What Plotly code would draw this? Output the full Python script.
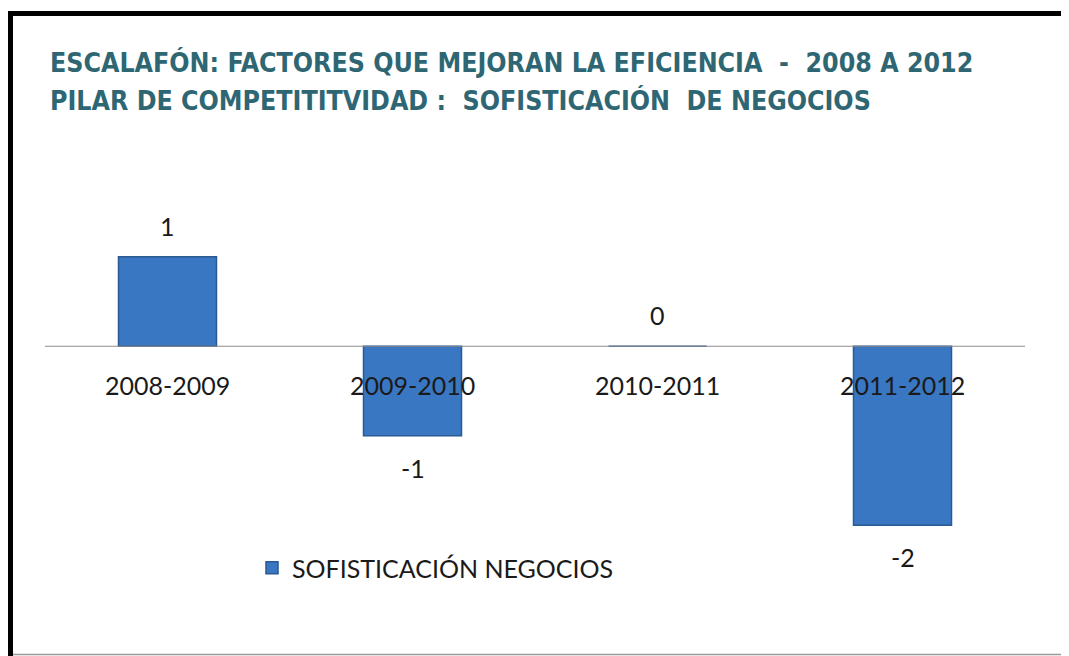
import plotly.graph_objects as go

categories = ["2008-2009", "2009-2010", "2010-2011", "2011-2012"]
values = [1, -1, 0, -2]
series_name = "SOFISTICACIÓN NEGOCIOS"
title_lines = ["ESCALAFÓN: FACTORES QUE MEJORAN LA EFICIENCIA  -  2008 A 2012",
               "PILAR DE COMPETITITVIDAD :  SOFISTICACIÓN  DE NEGOCIOS"]

OFF = 8  # page body margin
W, H = 1069 - OFF, 656 - OFF
L, R, T = 45 - OFF, 1069 - 1025, 212 - OFF
B = H - (570 - OFF)
pw, ph = W - L - R, H - T - B

def px(x):
    return (x - OFF - L) / pw

def py(y):
    return (H - B - (y - OFF)) / ph

FONT = "Lato, Liberation Sans"
fig = go.Figure()
fig.add_trace(go.Bar(
    x=categories, y=values, name=series_name, width=0.4,
    marker=dict(color="#3A77C2", line=dict(color="#2A5A92", width=1.5)),
    showlegend=True,
))

annotations = []
for c, v in zip(categories, values):
    annotations.append(dict(x=c, y=0, yref="y", xref="x", text=c, showarrow=False,
                            yshift=-39, font=dict(family=FONT, size=25, color="#1a1a1a")))
    annotations.append(dict(x=c, y=v, yref="y", xref="x", text=str(v), showarrow=False,
                            yshift=(31 if v >= 0 else -32), font=dict(family=FONT, size=25, color="#1a1a1a")))
for i, t in enumerate(title_lines):
    annotations.append(dict(x=px(48), y=py(62 + 38 * i), xref="paper", yref="paper", xanchor="left",
                            yanchor="middle", text="<b>" + t + "</b>", showarrow=False,
                            font=dict(family="Liberation Sans Narrow, DejaVu Sans Condensed", size=26.5, color="#2E6773")))

shapes = [
    dict(type="line", xref="paper", yref="y", x0=px(45), x1=px(1025), y0=0, y1=0, line=dict(color="#8c8c8c", width=1.2)),
    dict(type="line", xref="paper", yref="paper", x0=px(6), x1=px(1080), y0=py(13.5), y1=py(13.5), line=dict(color="black", width=5)),
    dict(type="line", xref="paper", yref="paper", x0=px(10), x1=px(10), y0=py(11), y1=py(660), line=dict(color="black", width=6)),
    dict(type="line", xref="paper", yref="paper", x0=px(13), x1=px(1080), y0=py(654.5), y1=py(654.5), line=dict(color="#9a9a9a", width=1.5)),
]

fig.update_layout(
    width=W, height=H, margin=dict(l=L, r=R, t=T, b=B),
    paper_bgcolor="white", plot_bgcolor="white",
    xaxis=dict(showticklabels=False, showgrid=False, zeroline=False, showline=False, ticks=""),
    yaxis=dict(range=[-2.5, 1.5], showticklabels=False, showgrid=False, zeroline=False, showline=False, ticks=""),
    legend=dict(x=px(252), y=py(568), xanchor="left", yanchor="middle", bgcolor="rgba(0,0,0,0)",
                font=dict(family=FONT, size=25, color="#1a1a1a"), itemwidth=30),
    annotations=annotations, shapes=shapes, bargap=0.6,
)
fig.write_html("out.html")
